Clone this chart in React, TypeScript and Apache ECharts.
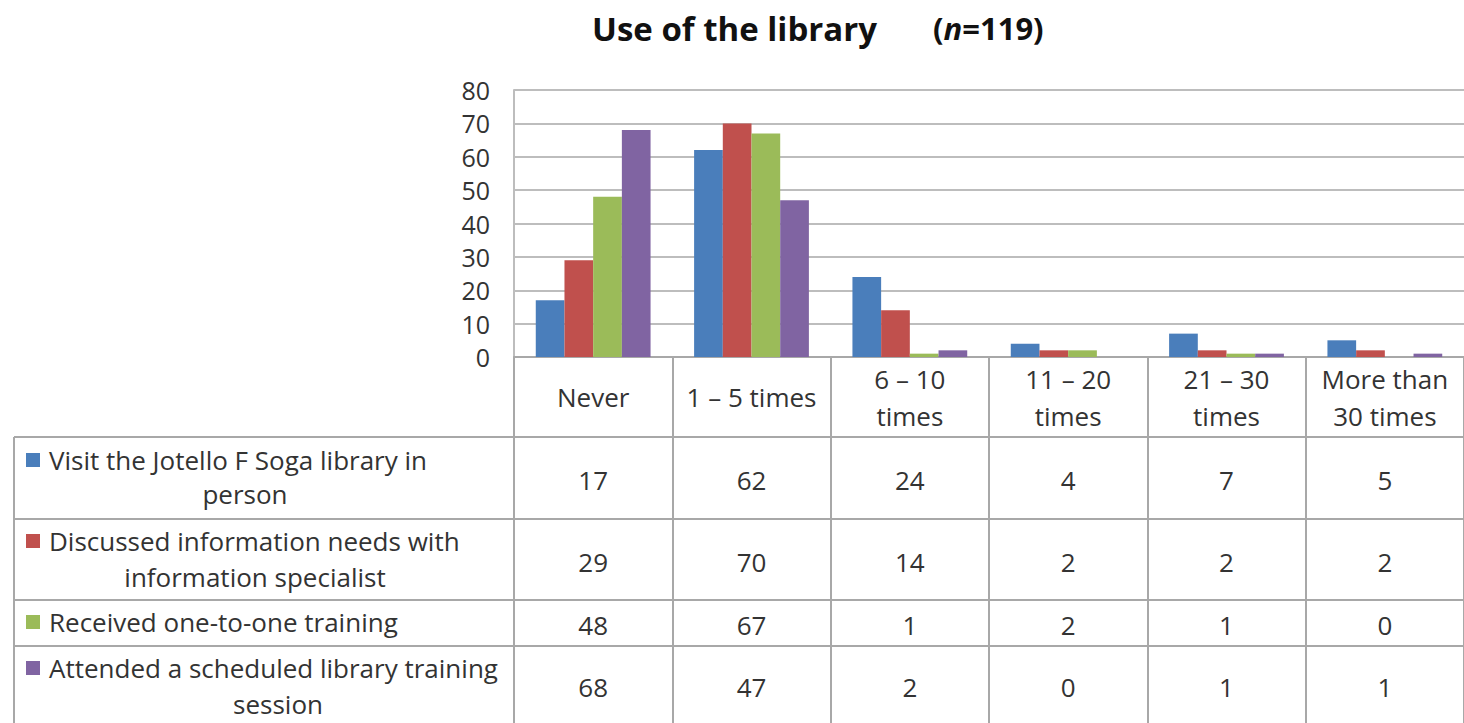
import React, { useEffect, useRef } from "react";
import * as echarts from "echarts";

const categories = ["Never", "1 – 5 times", "6 – 10\ntimes", "11 – 20\ntimes", "21 – 30\ntimes", "More than\n30 times"];
const seriesNames = [
  "Visit the Jotello F Soga library in person",
  "Discussed information needs with information specialist",
  "Received one-to-one training",
  "Attended a scheduled library training session",
];
const rowLabelLines = [
  ["Visit the Jotello F Soga library in", "person"],
  ["Discussed information needs with", "information specialist"],
  ["Received one-to-one training"],
  ["Attended a scheduled library training", "session"],
];
const visitInPerson = [17, 62, 24, 4, 7, 5];
const discussedNeeds = [29, 70, 14, 2, 2, 2];
const oneToOneTraining = [48, 67, 1, 2, 1, 0];
const scheduledTraining = [68, 47, 2, 0, 1, 1];
const seriesValues = [visitInPerson, discussedNeeds, oneToOneTraining, scheduledTraining];
const yMin = 0;
const yMax = 80;
const yInterval = 10;

const colors = ["#4a7ebb", "#c0504d", "#9bbb59", "#8064a2"];
const FONT = "'Open Sans', Lato, sans-serif";
const TEXT = "#333333";
const GRID_COLOR = "#bdbdbd";
const TABLE_COLOR = "#a8a8a8";
const FS = 26;
const TITLE_FS = 33;

// table layout (pixels)
const rowLines = [437, 519, 600, 646];
const rowBottom = 723;
const tableLeft = 14;
const rowLineCenters = [
  [460, 494],
  [541, 577],
  [622],
  [668, 704],
];
const secondLineX = [245, 255, 0, 278];

export default function App() {
  const ref = useRef<HTMLDivElement>(null);
  useEffect(() => {
    const chart = echarts.init(ref.current as HTMLDivElement, null, { renderer: "svg" });
    chart.setOption({
      animation: false,
      backgroundColor: "#ffffff",
      grid: { left: 514, top: 90, width: 960, height: 267, containLabel: false },
      xAxis: {
        type: "category",
        data: categories,
        axisLine: { show: true, lineStyle: { color: TABLE_COLOR, width: 2 } },
        axisTick: { show: true, length: 366, interval: 0, lineStyle: { color: TABLE_COLOR, width: 2 } },
        axisLabel: {
          interval: 0,
          margin: 40,
          verticalAlign: "middle",
          fontFamily: FONT,
          fontSize: FS,
          lineHeight: 37,
          color: TEXT,
        },
        splitLine: { show: false },
      },
      yAxis: {
        type: "value",
        min: yMin,
        max: yMax,
        interval: yInterval,
        axisLine: { show: true, lineStyle: { color: GRID_COLOR, width: 2 } },
        axisTick: { show: false },
        axisLabel: { margin: 24, fontFamily: FONT, fontSize: FS - 1, color: TEXT },
        splitLine: { show: true, lineStyle: { color: GRID_COLOR, width: 2 } },
      },
      series: seriesNames.map((name, i) => ({
        name,
        type: "bar",
        data: seriesValues[i],
        itemStyle: { color: colors[i] },
        barGap: "0%",
        barCategoryGap: "27.5%",
      })),
    });

    const graphics: any[] = [];
    // title
    graphics.push({
      type: "text",
      x: 592,
      y: 28,
      style: {
        text: "Use of the library",
        fontFamily: FONT,
        fontSize: TITLE_FS,
        fontWeight: "bold",
        fill: "#111",
        align: "left",
        verticalAlign: "middle",
      },
    });
    graphics.push({
      type: "text",
      x: 933,
      y: 28,
      style: {
        text: "({i|n}=119)",
        fontFamily: FONT,
        fontSize: TITLE_FS - 2,
        fontWeight: "bold",
        fill: "#111",
        align: "left",
        verticalAlign: "middle",
        rich: { i: { fontFamily: FONT, fontSize: TITLE_FS - 2, fontWeight: "bold", fontStyle: "italic", fill: "#111" } },
      },
    });
    // horizontal table lines
    rowLines.forEach((y) => {
      graphics.push({
        type: "line",
        shape: { x1: tableLeft, y1: y, x2: 1464, y2: y },
        style: { stroke: TABLE_COLOR, lineWidth: 2 },
      });
    });
    graphics.push({
      type: "line",
      shape: { x1: tableLeft, y1: rowLines[0], x2: tableLeft, y2: rowBottom },
      style: { stroke: TABLE_COLOR, lineWidth: 2 },
    });
    // row labels with legend keys
    rowLabelLines.forEach((lines, r) => {
      const ys = rowLineCenters[r];
      graphics.push({
        type: "rect",
        shape: { x: 26, y: ys[0] - 7, width: 14, height: 14 },
        style: { fill: colors[r] },
      });
      graphics.push({
        type: "text",
        x: 49,
        y: ys[0],
        style: { text: lines[0], fontFamily: FONT, fontSize: FS, fill: TEXT, align: "left", verticalAlign: "middle" },
      });
      if (lines[1]) {
        graphics.push({
          type: "text",
          x: secondLineX[r],
          y: ys[1],
          style: { text: lines[1], fontFamily: FONT, fontSize: FS, fill: TEXT, align: "center", verticalAlign: "middle" },
        });
      }
    });
    // values
    const rowValueY = rowLines.map((y, i) => ((i + 1 < rowLines.length ? rowLines[i + 1] : rowBottom) + y) / 2);
    seriesValues.forEach((vals, r) => {
      vals.forEach((v, c) => {
        const x = chart.convertToPixel({ xAxisIndex: 0 }, c) as number;
        graphics.push({
          type: "text",
          x,
          y: rowValueY[r] + 2,
          style: { text: String(v), fontFamily: FONT, fontSize: FS, fill: TEXT, align: "center", verticalAlign: "middle" },
        });
      });
    });
    chart.setOption({ graphic: graphics });
    return () => chart.dispose();
  }, []);
  return <div ref={ref} style={{ position: "fixed", left: 0, top: 0, width: 1464, height: 723 }} />;
}
